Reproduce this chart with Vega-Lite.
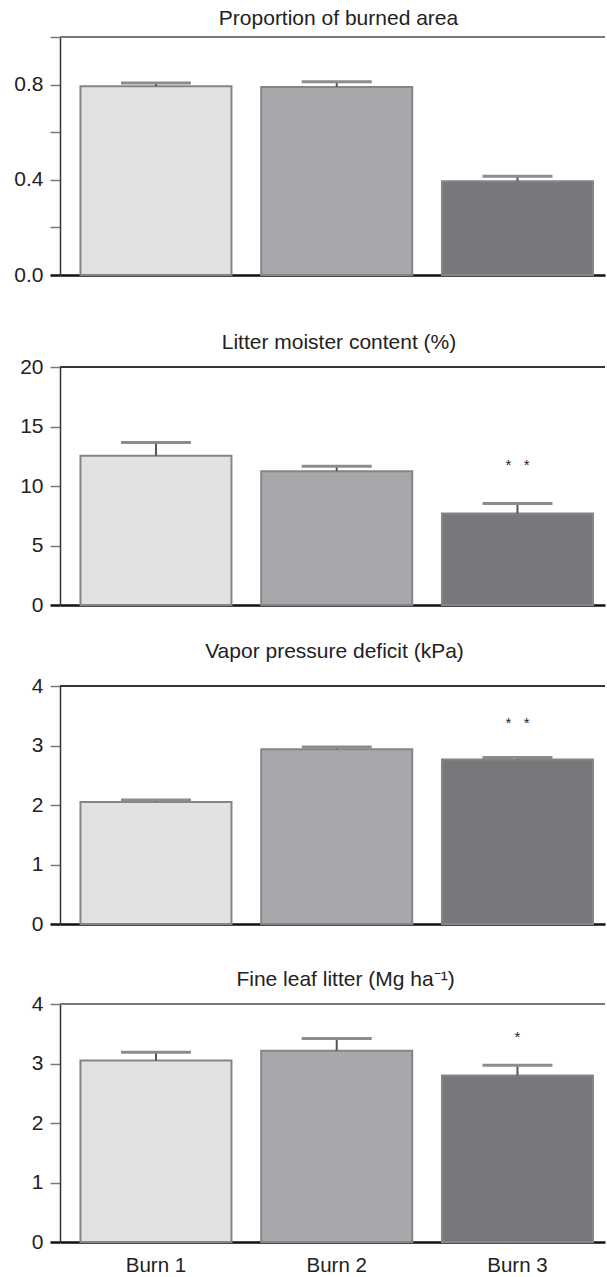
{
  "$schema": "https://vega.github.io/schema/vega-lite/v6.json",
  "padding": {"left": 0, "top": 8, "right": 0, "bottom": 0},
  "spacing": 0,
  "config": {"view": {"stroke": null}, "font": "Liberation Sans"},
  "datasets": {
    "d": [
      {"panel": "A", "burn": "Burn 1", "mean": 0.793, "upper": 0.807, "sig": "", "sig_y": null},
      {"panel": "A", "burn": "Burn 2", "mean": 0.79, "upper": 0.8125, "sig": "", "sig_y": null},
      {"panel": "A", "burn": "Burn 3", "mean": 0.394, "upper": 0.415, "sig": "", "sig_y": null},
      {"panel": "B", "burn": "Burn 1", "mean": 12.55, "upper": 13.65, "sig": "", "sig_y": null},
      {"panel": "B", "burn": "Burn 2", "mean": 11.25, "upper": 11.67, "sig": "", "sig_y": null},
      {"panel": "B", "burn": "Burn 3", "mean": 7.68, "upper": 8.52, "sig": "*\u00a0\u00a0\u00a0*", "sig_y": 11.35},
      {"panel": "C", "burn": "Burn 1", "mean": 2.05, "upper": 2.085, "sig": "", "sig_y": null},
      {"panel": "C", "burn": "Burn 2", "mean": 2.935, "upper": 2.975, "sig": "", "sig_y": null},
      {"panel": "C", "burn": "Burn 3", "mean": 2.763, "upper": 2.797, "sig": "*\u00a0\u00a0\u00a0*", "sig_y": 3.3},
      {"panel": "D", "burn": "Burn 1", "mean": 3.05, "upper": 3.19, "sig": "", "sig_y": null},
      {"panel": "D", "burn": "Burn 2", "mean": 3.215, "upper": 3.42, "sig": "", "sig_y": null},
      {"panel": "D", "burn": "Burn 3", "mean": 2.8, "upper": 2.97, "sig": "*", "sig_y": 3.36}
    ]
  },
  "vconcat": [
    {
      "width": 545, "height": 238,
      "data": {"name": "d"},
      "transform": [{"filter": "datum.panel === 'A'"}],
      "title": {"text": "Proportion of burned area", "frame": "group", "baseline": "alphabetic", "offset": -10, "dx": 6, "fontSize": 21, "fontWeight": "normal", "color": "#222", "anchor": "middle", "font": "Liberation Sans"},
      "layer": [
        {
          "mark": {"type": "bar", "stroke": "#858585", "strokeWidth": 2},
          "encoding": {
            "x": {"field": "burn", "type": "nominal", "sort": null, "title": null,
              "scale": {"paddingInner": 0.1646, "paddingOuter": 0.0899, "align": 0.63},
              "axis": {"labels": false, "ticks": false, "domainColor": "#111", "domainWidth": 2.5, "minExtent": 56.8, "maxExtent": 56.8}},
            "y": {"field": "mean", "type": "quantitative", "title": null,
              "scale": {"domain": [0, 1], "nice": false},
              "axis": {"values": [0, 0.2, 0.4, 0.6, 0.8, 1.0], "labelExpr": "datum.value === 0 || datum.value === 0.4 || datum.value === 0.8 ? format(datum.value, '.1f') : ''", "grid": false, "tickSize": 10, "tickColor": {"condition": {"test": "datum.value === 0", "value": "#111"}, "value": "#7a7a7a"}, "tickWidth": {"condition": {"test": "datum.value === 0", "value": 2.5}, "value": 1.5}, "domainColor": "#333", "domainWidth": 1.5, "labelFontSize": 21, "labelPadding": 7, "labelColor": "#222", "labelFont": "Liberation Sans", "minExtent": 60, "maxExtent": 60}},
            "color": {"field": "burn", "type": "nominal", "legend": null, "scale": {"domain": ["Burn 1", "Burn 2", "Burn 3"], "range": ["#e1e2e4", "#a7a8ab", "#77787c"]}}
          }
        },
        {
          "mark": {"type": "rule", "color": "#555", "strokeWidth": 2},
          "encoding": {"x": {"field": "burn", "type": "nominal", "sort": null}, "y": {"field": "mean", "type": "quantitative", "title": null}, "y2": {"field": "upper"}}
        },
        {
          "mark": {"type": "tick", "color": "#8c8c8c", "size": 70, "thickness": 3, "opacity": 1},
          "encoding": {"x": {"field": "burn", "type": "nominal", "sort": null}, "y": {"field": "upper", "type": "quantitative", "title": null}}
        },
        {
          "mark": {"type": "rule", "color": "#777", "strokeWidth": 1.3},
          "encoding": {"y": {"datum": 1, "type": "quantitative", "title": null}}
        }
      ]
    },
    {
      "width": 545, "height": 238,
      "data": {"name": "d"},
      "transform": [{"filter": "datum.panel === 'B'"}],
      "title": {"text": "Litter moister content (%)", "frame": "group", "baseline": "alphabetic", "offset": -14.3, "dx": 6.5, "fontSize": 21, "fontWeight": "normal", "color": "#222", "anchor": "middle", "font": "Liberation Sans"},
      "layer": [
        {
          "mark": {"type": "bar", "stroke": "#858585", "strokeWidth": 2},
          "encoding": {
            "x": {"field": "burn", "type": "nominal", "sort": null, "title": null,
              "scale": {"paddingInner": 0.1646, "paddingOuter": 0.0899, "align": 0.63},
              "axis": {"labels": false, "ticks": false, "domainColor": "#111", "domainWidth": 2.5, "minExtent": 34.8, "maxExtent": 34.8}},
            "y": {"field": "mean", "type": "quantitative", "title": null,
              "scale": {"domain": [0, 20], "nice": false},
              "axis": {"values": [0, 5, 10, 15, 20], "format": "d", "grid": false, "tickSize": 10, "tickColor": {"condition": {"test": "datum.value === 0", "value": "#111"}, "value": "#7a7a7a"}, "tickWidth": {"condition": {"test": "datum.value === 0", "value": 2.5}, "value": 1.5}, "domainColor": "#333", "domainWidth": 1.5, "labelFontSize": 21, "labelPadding": 7, "labelColor": "#222", "labelFont": "Liberation Sans", "minExtent": 60, "maxExtent": 60}},
            "color": {"field": "burn", "type": "nominal", "legend": null, "scale": {"domain": ["Burn 1", "Burn 2", "Burn 3"], "range": ["#e1e2e4", "#a7a8ab", "#77787c"]}}
          }
        },
        {
          "mark": {"type": "rule", "color": "#555", "strokeWidth": 2},
          "encoding": {"x": {"field": "burn", "type": "nominal", "sort": null}, "y": {"field": "mean", "type": "quantitative", "title": null}, "y2": {"field": "upper"}}
        },
        {
          "mark": {"type": "tick", "color": "#8c8c8c", "size": 70, "thickness": 3, "opacity": 1},
          "encoding": {"x": {"field": "burn", "type": "nominal", "sort": null}, "y": {"field": "upper", "type": "quantitative", "title": null}}
        },
        {
          "transform": [{"filter": "datum.sig !== ''"}],
          "mark": {"type": "text", "fontSize": 15, "color": "#222", "baseline": "alphabetic", "font": "Liberation Sans"},
          "encoding": {"x": {"field": "burn", "type": "nominal", "sort": null}, "y": {"field": "sig_y", "type": "quantitative", "title": null}, "text": {"field": "sig"}}
        },
        {
          "mark": {"type": "rule", "color": "#333", "strokeWidth": 1.3},
          "encoding": {"y": {"datum": 20, "type": "quantitative", "title": null}}
        }
      ]
    },
    {
      "width": 545, "height": 238,
      "data": {"name": "d"},
      "transform": [{"filter": "datum.panel === 'C'"}],
      "title": {"text": "Vapor pressure deficit (kPa)", "frame": "group", "baseline": "alphabetic", "offset": -3.6, "dx": 2, "fontSize": 21, "fontWeight": "normal", "color": "#222", "anchor": "middle", "font": "Liberation Sans"},
      "layer": [
        {
          "mark": {"type": "bar", "stroke": "#858585", "strokeWidth": 2},
          "encoding": {
            "x": {"field": "burn", "type": "nominal", "sort": null, "title": null,
              "scale": {"paddingInner": 0.1646, "paddingOuter": 0.0899, "align": 0.63},
              "axis": {"labels": false, "ticks": false, "domainColor": "#111", "domainWidth": 2.5, "minExtent": 44.3, "maxExtent": 44.3}},
            "y": {"field": "mean", "type": "quantitative", "title": null,
              "scale": {"domain": [0, 4], "nice": false},
              "axis": {"values": [0, 1, 2, 3, 4], "format": "d", "grid": false, "tickSize": 10, "tickColor": {"condition": {"test": "datum.value === 0", "value": "#111"}, "value": "#7a7a7a"}, "tickWidth": {"condition": {"test": "datum.value === 0", "value": 2.5}, "value": 1.5}, "domainColor": "#333", "domainWidth": 1.5, "labelFontSize": 21, "labelPadding": 7, "labelColor": "#222", "labelFont": "Liberation Sans", "minExtent": 60, "maxExtent": 60}},
            "color": {"field": "burn", "type": "nominal", "legend": null, "scale": {"domain": ["Burn 1", "Burn 2", "Burn 3"], "range": ["#e1e2e4", "#a7a8ab", "#77787c"]}}
          }
        },
        {
          "mark": {"type": "rule", "color": "#555", "strokeWidth": 2},
          "encoding": {"x": {"field": "burn", "type": "nominal", "sort": null}, "y": {"field": "mean", "type": "quantitative", "title": null}, "y2": {"field": "upper"}}
        },
        {
          "mark": {"type": "tick", "color": "#8c8c8c", "size": 70, "thickness": 3, "opacity": 1},
          "encoding": {"x": {"field": "burn", "type": "nominal", "sort": null}, "y": {"field": "upper", "type": "quantitative", "title": null}}
        },
        {
          "transform": [{"filter": "datum.sig !== ''"}],
          "mark": {"type": "text", "fontSize": 15, "color": "#222", "baseline": "alphabetic", "font": "Liberation Sans"},
          "encoding": {"x": {"field": "burn", "type": "nominal", "sort": null}, "y": {"field": "sig_y", "type": "quantitative", "title": null}, "text": {"field": "sig"}}
        },
        {
          "mark": {"type": "rule", "color": "#333", "strokeWidth": 1.3},
          "encoding": {"y": {"datum": 4, "type": "quantitative", "title": null}}
        }
      ]
    },
    {
      "width": 545, "height": 238,
      "data": {"name": "d"},
      "transform": [{"filter": "datum.panel === 'D'"}],
      "title": {"text": "Fine leaf litter (Mg ha⁻¹)", "frame": "group", "baseline": "alphabetic", "offset": -14.3, "dx": 13, "fontSize": 21, "fontWeight": "normal", "color": "#222", "anchor": "middle", "font": "Liberation Sans"},
      "layer": [
        {
          "mark": {"type": "bar", "stroke": "#858585", "strokeWidth": 2},
          "encoding": {
            "x": {"field": "burn", "type": "nominal", "sort": null, "title": null,
              "scale": {"paddingInner": 0.1646, "paddingOuter": 0.0899, "align": 0.63},
              "axis": {"labels": true, "ticks": false, "tickSize": 0, "labelAngle": 0, "labelFontSize": 20.5, "labelColor": "#222", "labelFont": "Liberation Sans", "labelPadding": 13.5, "labelBaseline": "top", "domainColor": "#111", "domainWidth": 2.5}},
            "y": {"field": "mean", "type": "quantitative", "title": null,
              "scale": {"domain": [0, 4], "nice": false},
              "axis": {"values": [0, 1, 2, 3, 4], "format": "d", "grid": false, "tickSize": 10, "tickColor": {"condition": {"test": "datum.value === 0", "value": "#111"}, "value": "#7a7a7a"}, "tickWidth": {"condition": {"test": "datum.value === 0", "value": 2.5}, "value": 1.5}, "domainColor": "#333", "domainWidth": 1.5, "labelFontSize": 21, "labelPadding": 7, "labelColor": "#222", "labelFont": "Liberation Sans", "minExtent": 60, "maxExtent": 60}},
            "color": {"field": "burn", "type": "nominal", "legend": null, "scale": {"domain": ["Burn 1", "Burn 2", "Burn 3"], "range": ["#e1e2e4", "#a7a8ab", "#77787c"]}}
          }
        },
        {
          "mark": {"type": "rule", "color": "#555", "strokeWidth": 2},
          "encoding": {"x": {"field": "burn", "type": "nominal", "sort": null}, "y": {"field": "mean", "type": "quantitative", "title": null}, "y2": {"field": "upper"}}
        },
        {
          "mark": {"type": "tick", "color": "#8c8c8c", "size": 70, "thickness": 3, "opacity": 1},
          "encoding": {"x": {"field": "burn", "type": "nominal", "sort": null}, "y": {"field": "upper", "type": "quantitative", "title": null}}
        },
        {
          "transform": [{"filter": "datum.sig !== ''"}],
          "mark": {"type": "text", "fontSize": 15, "color": "#222", "baseline": "alphabetic", "font": "Liberation Sans"},
          "encoding": {"x": {"field": "burn", "type": "nominal", "sort": null}, "y": {"field": "sig_y", "type": "quantitative", "title": null}, "text": {"field": "sig"}}
        },
        {
          "mark": {"type": "rule", "color": "#777", "strokeWidth": 1.3},
          "encoding": {"y": {"datum": 4, "type": "quantitative", "title": null}}
        }
      ]
    }
  ]
}
